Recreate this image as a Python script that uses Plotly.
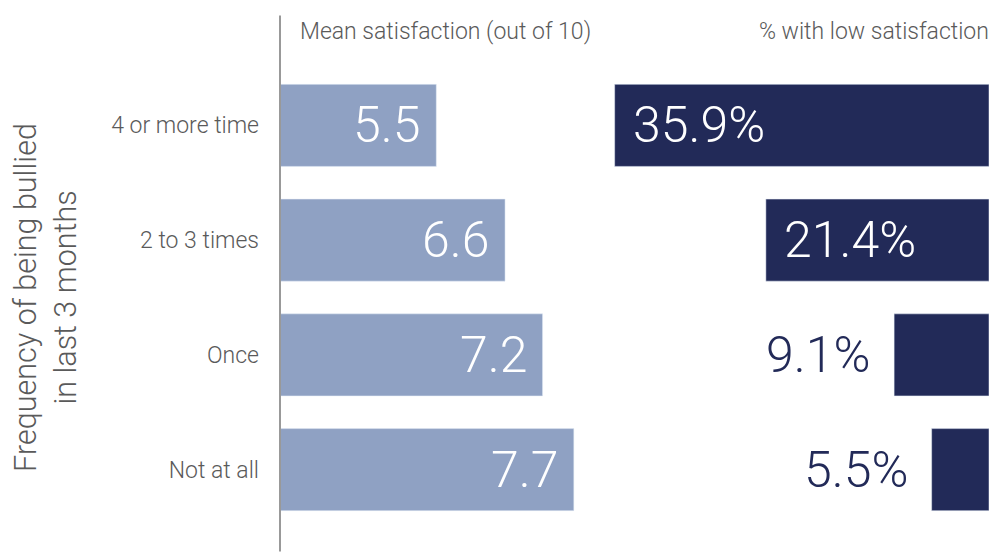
import plotly.graph_objects as go

categories = ["4 or more time", "2 to 3 times", "Once", "Not at all"]
mean_satisfaction = [5.5, 6.6, 7.2, 7.7]
pct_low = [35.9, 21.4, 9.1, 5.5]
pct_inside = [True, True, False, False]

left_color = "#8fa1c3"
right_color = "#222a58"
text_gray = "#5a5a5a"
light_font = dict(family="Roboto", weight=300)
value_font = dict(family="Roboto", weight=300, size=50)

fig = go.Figure()
fig.add_trace(go.Bar(y=categories, x=[v - 3 for v in mean_satisfaction], base=3,
                     orientation="h", marker_color=left_color,
                     xaxis="x", yaxis="y", hoverinfo="skip", showlegend=False))
fig.add_trace(go.Bar(y=categories, x=pct_low, orientation="h",
                     marker_color=right_color, xaxis="x2", yaxis="y",
                     hoverinfo="skip", showlegend=False))

annotations = []
for c, v in zip(categories, mean_satisfaction):
    annotations.append(dict(x=v, y=c, xref="x", yref="y", text=f"{v:.1f}",
                            xanchor="right", xshift=-14, showarrow=False,
                            font=dict(color="white", **value_font)))
for c, v, inside in zip(categories, pct_low, pct_inside):
    if inside:
        annotations.append(dict(x=v, y=c, xref="x2", yref="y", text=f"{v:.1f}%",
                                xanchor="left", xshift=16, showarrow=False,
                                font=dict(color="white", **value_font)))
    else:
        annotations.append(dict(x=v, y=c, xref="x2", yref="y", text=f"{v:.1f}%",
                                xanchor="right", xshift=-22, showarrow=False,
                                font=dict(color=right_color, **value_font)))

title_y = 1 + (67.5 - 31) / 460
annotations.append(dict(x=(298 - 280) / 709, y=title_y, xref="paper", yref="paper",
                        text="Mean satisfaction (out of 10)",
                        showarrow=False, xanchor="left", yanchor="middle",
                        font=dict(size=23, color=text_gray, **light_font)))
annotations.append(dict(x=(757 - 280) / 709, y=title_y, xref="paper", yref="paper",
                        text="% with low satisfaction", showarrow=False,
                        xanchor="left", yanchor="middle",
                        font=dict(size=23, color=text_gray, **light_font)))

fig.update_layout(
    width=989, height=552,
    margin=dict(l=280, r=0, t=67.5, b=24.5),
    paper_bgcolor="white", plot_bgcolor="white",
    bargap=0.285,
    xaxis=dict(domain=[0, 0.44], range=[3, 7.99], visible=False, fixedrange=True),
    xaxis2=dict(domain=[0.4485, 1], range=[37.5, 0], visible=False, anchor="y", fixedrange=True),
    yaxis=dict(categoryorder="array", categoryarray=categories, autorange="reversed",
               showgrid=False, zeroline=False, showline=False, ticks="",
               ticklabelstandoff=20, fixedrange=True,
               tickfont=dict(size=23, color=text_gray, **light_font),
               title=dict(text="Frequency of being bullied<br>in last 3 months", standoff=25,
                          font=dict(size=30.5, color=text_gray, **light_font))),
    annotations=annotations,
    shapes=[dict(type="line", xref="paper", yref="paper", x0=0, x1=0,
                 y0=1 + (67.5 - 15) / 460, y1=-24.5 / 460,
                 line=dict(color="#999999", width=2))],
)

fig.write_html("out.html", config={"displayModeBar": False},
               post_script="document.body.style.margin='0';")
